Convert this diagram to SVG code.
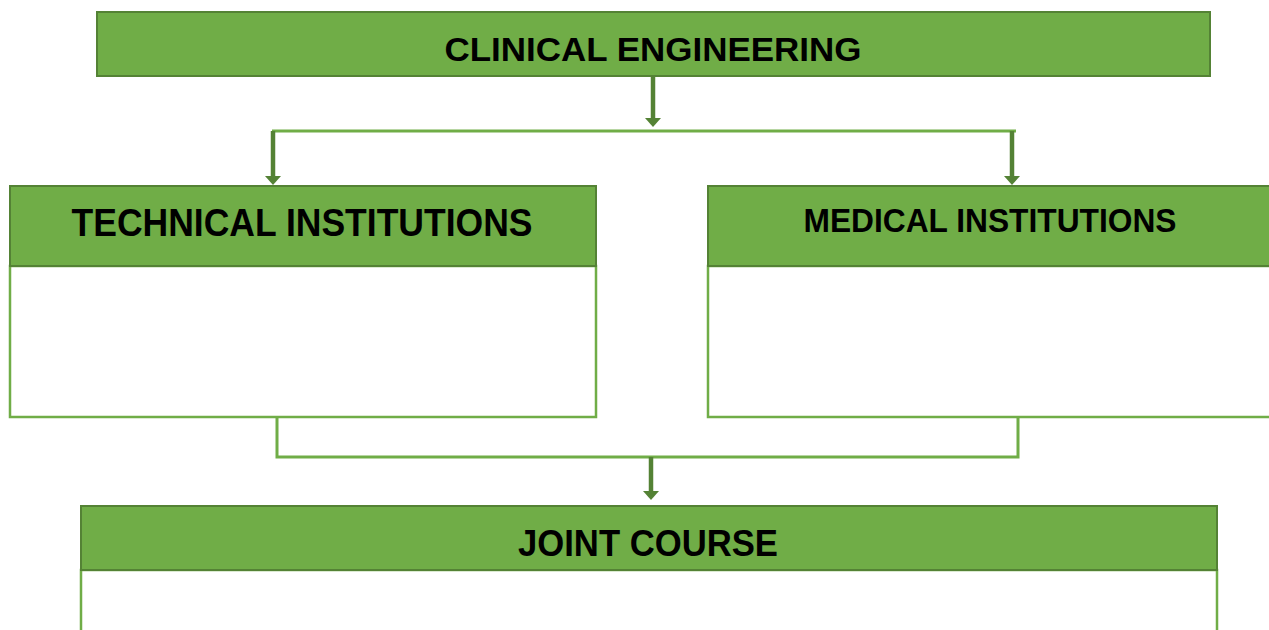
<svg xmlns="http://www.w3.org/2000/svg" width="1269" height="630" viewBox="0 0 1269 630">
<style>
.hdr{fill:#70AD47;stroke:#548235;stroke-width:2}
.body{fill:#FFFFFF;stroke:#70AD47;stroke-width:2.5}
.t{font-family:"Liberation Sans",Arial,sans-serif;font-weight:bold;fill:#000;text-anchor:middle}
.ln{fill:none;stroke:#70AD47;stroke-width:3}
.ar{fill:none;stroke:#548235;stroke-width:4.5}
</style>
<defs>
<marker id="ah" markerUnits="userSpaceOnUse" markerWidth="9" markerHeight="16" refX="0" refY="8" orient="auto" viewBox="0 0 9 16">
<path d="M0,0 L9,8 L0,16 Z" fill="#548235"/>
</marker>
</defs>
<rect width="1269" height="630" fill="#FFFFFF"/>
<g id="connectors">
<path class="ln" d="M272,131 H1016"/>
<path class="ln" d="M277,417 V457 H1018 V415"/>
<line class="ar" x1="653" y1="76" x2="653" y2="118" marker-end="url(#ah)"/>
<line class="ar" x1="273" y1="131" x2="273" y2="176" marker-end="url(#ah)"/>
<line class="ar" x1="1012" y1="131" x2="1012" y2="176" marker-end="url(#ah)"/>
<line class="ar" x1="651" y1="457" x2="651" y2="491" marker-end="url(#ah)"/>
</g>
<g id="clinical-engineering">
<rect class="hdr" x="97" y="12" width="1113" height="64"/>
<text class="t" x="653" y="61" font-size="34" textLength="417" lengthAdjust="spacingAndGlyphs">CLINICAL ENGINEERING</text>
</g>
<g id="technical-institutions">
<rect class="body" x="10" y="266" width="586" height="151"/>
<rect class="hdr" x="10" y="186" width="586" height="80"/>
<text class="t" x="302" y="236" font-size="38" textLength="461" lengthAdjust="spacingAndGlyphs">TECHNICAL INSTITUTIONS</text>
</g>
<g id="medical-institutions">
<rect class="body" x="708" y="266" width="570" height="151"/>
<rect class="hdr" x="708" y="186" width="570" height="80"/>
<text class="t" x="990" y="232" font-size="34" textLength="373" lengthAdjust="spacingAndGlyphs">MEDICAL INSTITUTIONS</text>
</g>
<g id="joint-course">
<rect class="body" x="81" y="570" width="1136" height="80"/>
<rect class="hdr" x="81" y="506" width="1136" height="64"/>
<text class="t" x="648" y="556" font-size="37" textLength="260" lengthAdjust="spacingAndGlyphs">JOINT COURSE</text>
</g>
</svg>
